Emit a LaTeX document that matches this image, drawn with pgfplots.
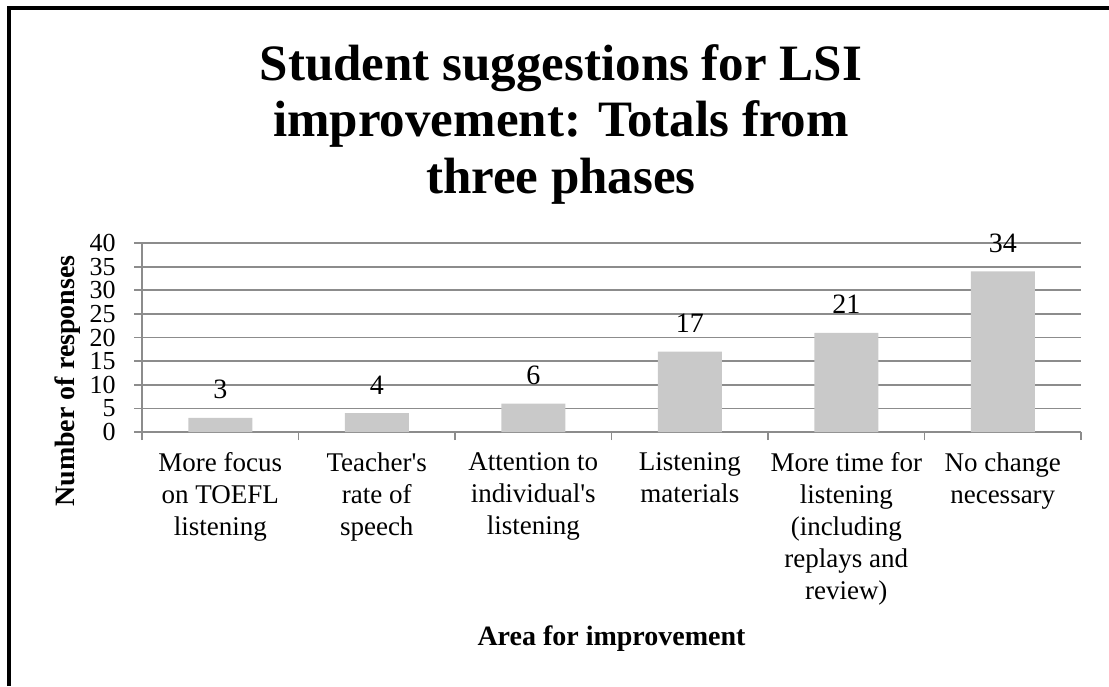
\documentclass[border=0pt]{standalone}
\usepackage{fontspec}
\setmainfont{Liberation Serif}
\usepackage{pgfplots}
\pgfplotsset{compat=1.18}
\definecolor{bargray}{RGB}{201,201,201}
\definecolor{gridgray}{RGB}{140,140,140}
\def\u{0.75pt}
\begin{document}
\begin{tikzpicture}
\useasboundingbox (0,0) rectangle ({1109*\u},{-686*\u});
\draw[line width={4*\u}, line join=miter] ({8.5*\u},{-686*\u}) -- ({8.5*\u},{-7.5*\u}) -- ({1109*\u},{-7.5*\u});
\node[font=\fontsize{38.25}{42.75}\selectfont\bfseries, anchor=base, inner sep=0pt] at ({561*\u},{-80*\u}) {Student suggestions for LSI};
\node[font=\fontsize{38.25}{42.75}\selectfont\bfseries, anchor=base, inner sep=0pt] at ({561*\u},{-136.5*\u}) {improvement: Totals from};
\node[font=\fontsize{38.25}{42.75}\selectfont\bfseries, anchor=base, inner sep=0pt] at ({561*\u},{-193*\u}) {three phases};
\begin{axis}[
  at={({142*\u},{-432*\u})}, anchor=south west,
  scale only axis, width={939*\u}, height={189*\u},
  xmin=-0.5, xmax=5.5, ymin=0, ymax=40,
  axis lines*=left,
  axis line style={gridgray, line width=1.3pt},
  tick align=outside,
  major tick length={8*\u},
  tick style={gridgray, line width=1.3pt},
  /pgf/number format/assume math mode=true,
  ytick={0,5,...,40},
  ymajorgrids,
  major grid style={gridgray, line width=1.3pt},
  xtick={-0.5,0.5,1.5,2.5,3.5,4.5,5.5},
  xticklabels={},
  extra x ticks={0,1,2,3,4,5},
  extra x tick labels={{More focus\\on TOEFL\\listening},{Teacher\textquotesingle s\\rate of\\speech},{Attention to\\individual\textquotesingle s\\listening},{Listening\\materials},{More time for\\listening\\(including\\replays and\\review)},{No change\\necessary}},
  extra x tick style={major tick length=0pt, grid=none, tick label style={align=center, anchor=north, inner sep=0pt, font=\fontsize{20.25}{24}\selectfont, yshift={-20.6*\u}}},
  yticklabel style={font=\fontsize{19.5}{19.5}\selectfont, anchor=east, inner sep=0pt, xshift={-18*\u}},
  xlabel={Area for improvement},
  xlabel style={font=\fontsize{21}{21}\selectfont\bfseries, at={(axis description cs:0.5,-1.127)}, anchor=base, inner sep=0pt},
  ylabel={Number of responses},
  ylabel style={font=\fontsize{21}{21}\selectfont\bfseries, at={(axis description cs:-0.0714,0.27)}, anchor=base, inner sep=0pt},
  ybar, bar width={64*\u},
  nodes near coords,
  nodes near coords style={font=\fontsize{21}{21}\selectfont, anchor=base, inner sep=0pt, yshift={19*\u}, black},
]
\addplot[fill=bargray, draw=none] coordinates {(0,3) (1,4) (2,6) (3,17) (4,21) (5,34)};
\end{axis}
\end{tikzpicture}
\end{document}
